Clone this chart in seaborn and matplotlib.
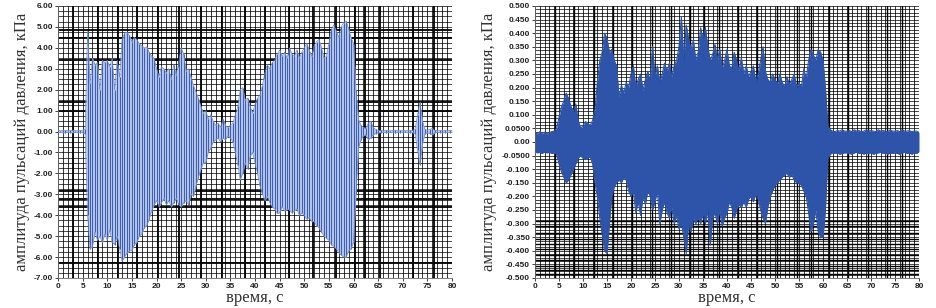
import numpy as np
import pandas as pd
import matplotlib
matplotlib.use("Agg")
import matplotlib.pyplot as plt
import seaborn as sns
from matplotlib.ticker import FormatStrFormatter

# ---------------- data (0.5 s steps, 0..80 s) ----------------
TIME = np.arange(0, 80.01, 0.5)

LEFT_UPPER = [
    0.05, 0.04, 0.06, 0.05, 0.04, 0.06, 0.05, 0.04, 0.06, 0.05,
    0.06, 0.10, 4.80, 2.30, 3.50, 3.20, 3.30, 2.00, 3.40, 3.30,
    3.40, 3.10, 3.50, 2.00, 3.40, 2.60, 4.40, 4.70, 4.75, 4.60,
    4.30, 4.50, 4.40, 4.20, 4.10, 4.00, 4.05, 3.80, 3.60, 3.50,
    3.00, 2.60, 3.10, 3.00, 2.80, 3.00, 2.50, 3.20, 2.70, 3.30,
    4.00, 3.70, 2.90, 3.00, 2.60, 2.20, 1.90, 1.60, 1.20, 0.90,
    1.00, 0.60, 0.80, 0.50, 0.30, 0.40, 0.20, 0.60, 0.30, 0.20,
    0.30, 0.40, 0.80, 1.20, 2.00, 2.10, 1.50, 1.60, 1.20, 0.90,
    1.30, 1.60, 1.75, 2.20, 2.80, 3.20, 3.00, 3.30, 3.40, 3.70,
    3.90, 3.60, 3.80, 3.50, 4.00, 3.70, 3.60, 3.90, 3.50, 3.80,
    4.00, 4.20, 3.90, 3.60, 4.10, 4.30, 4.40, 4.00, 3.50, 3.60,
    4.20, 4.90, 5.10, 4.80, 4.50, 5.00, 5.20, 5.30, 4.90, 4.50,
    4.20, 2.00, 0.60, 0.30, 0.20, 0.15, 0.40, 0.50, 0.20, 0.10,
    0.06, 0.05, 0.04, 0.06, 0.05, 0.04, 0.05, 0.06, 0.04, 0.05,
    0.05, 0.04, 0.06, 0.05, 0.05, 0.10, 0.80, 1.40, 0.50, 0.10,
    0.06, 0.10, 0.15, 0.05, 0.04, 0.05, 0.06, 0.05, 0.04, 0.05,
    0.05,
]
LEFT_LOWER = [
    -0.05, -0.04, -0.06, -0.05, -0.04, -0.06, -0.05, -0.04, -0.06, -0.05,
    -0.06, -0.10, -4.00, -5.60, -5.50, -4.80, -5.20, -5.00, -5.30, -4.90,
    -5.20, -4.70, -5.30, -5.40, -5.00, -5.60, -6.20, -6.00, -5.80, -5.70,
    -5.70, -5.40, -5.30, -5.00, -4.90, -4.60, -4.50, -4.20, -3.80, -3.50,
    -3.30, -3.60, -3.40, -3.20, -3.50, -3.30, -3.60, -3.40, -3.20, -3.50,
    -3.60, -3.40, -3.30, -3.50, -3.00, -3.10, -2.60, -2.20, -1.80, -1.50,
    -1.50, -1.00, -0.80, -0.50, -0.40, -0.30, -0.50, -0.30, -0.40, -0.20,
    -0.30, -0.50, -1.00, -1.60, -2.30, -2.00, -1.50, -1.80, -1.20, -1.00,
    -1.50, -2.00, -2.60, -3.00, -3.30, -3.10, -3.40, -3.60, -3.70, -3.90,
    -3.90, -3.60, -3.80, -3.70, -3.75, -3.90, -3.80, -3.70, -4.00, -3.90,
    -4.00, -4.20, -4.10, -4.30, -4.30, -4.50, -4.60, -4.80, -5.00, -5.10,
    -5.20, -5.40, -5.50, -5.60, -5.80, -5.90, -6.00, -6.00, -5.70, -5.60,
    -5.30, -3.00, -0.80, -0.40, -0.20, -0.15, -0.40, -0.30, -0.15, -0.10,
    -0.06, -0.05, -0.04, -0.06, -0.05, -0.04, -0.05, -0.06, -0.04, -0.05,
    -0.05, -0.04, -0.06, -0.05, -0.05, -0.10, -0.90, -1.60, -0.60, -0.10,
    -0.06, -0.10, -0.15, -0.05, -0.04, -0.05, -0.06, -0.05, -0.04, -0.05,
    -0.05,
]
RIGHT_UPPER = [
    0.035, 0.030, 0.038, 0.032, 0.036, 0.030, 0.034, 0.038, 0.040, 0.050,
    0.090, 0.130, 0.150, 0.180, 0.160, 0.130, 0.110, 0.140, 0.080, 0.050,
    0.060, 0.075, 0.070, 0.060, 0.080, 0.120, 0.220, 0.300, 0.330, 0.400,
    0.380, 0.330, 0.340, 0.300, 0.280, 0.165, 0.210, 0.180, 0.220, 0.200,
    0.250, 0.280, 0.200, 0.230, 0.250, 0.190, 0.230, 0.260, 0.220, 0.350,
    0.240, 0.280, 0.220, 0.250, 0.290, 0.260, 0.290, 0.240, 0.280, 0.300,
    0.350, 0.460, 0.300, 0.430, 0.380, 0.340, 0.375, 0.300, 0.330, 0.420,
    0.380, 0.420, 0.350, 0.300, 0.320, 0.360, 0.300, 0.340, 0.270, 0.300,
    0.340, 0.280, 0.270, 0.330, 0.300, 0.260, 0.310, 0.250, 0.280, 0.240,
    0.260, 0.280, 0.220, 0.250, 0.300, 0.350, 0.260, 0.230, 0.220, 0.250,
    0.230, 0.210, 0.250, 0.220, 0.200, 0.240, 0.210, 0.230, 0.250, 0.200,
    0.220, 0.200, 0.270, 0.230, 0.300, 0.340, 0.320, 0.300, 0.340, 0.330,
    0.300, 0.200, 0.060, 0.045, 0.040, 0.038, 0.042, 0.040, 0.045, 0.040,
    0.040, 0.042, 0.038, 0.045, 0.040, 0.042, 0.038, 0.040, 0.045, 0.040,
    0.042, 0.040, 0.038, 0.045, 0.040, 0.042, 0.040, 0.038, 0.045, 0.040,
    0.040, 0.042, 0.038, 0.045, 0.040, 0.040, 0.042, 0.038, 0.040, 0.040,
    0.035,
]
RIGHT_LOWER = [
    -0.035, -0.040, -0.038, -0.042, -0.036, -0.040, -0.038, -0.042, -0.040, -0.045,
    -0.080, -0.110, -0.130, -0.150, -0.140, -0.120, -0.100, -0.080, -0.060, -0.050,
    -0.060, -0.065, -0.060, -0.055, -0.080, -0.150, -0.200, -0.280, -0.340, -0.400,
    -0.410, -0.300, -0.200, -0.165, -0.150, -0.140, -0.150, -0.130, -0.140, -0.180,
    -0.200, -0.180, -0.260, -0.220, -0.270, -0.200, -0.230, -0.180, -0.200, -0.250,
    -0.220, -0.180, -0.300, -0.250, -0.220, -0.260, -0.280, -0.240, -0.300, -0.270,
    -0.320, -0.300, -0.350, -0.410, -0.300, -0.330, -0.280, -0.300, -0.275, -0.300,
    -0.260, -0.300, -0.250, -0.380, -0.280, -0.260, -0.300, -0.250, -0.310, -0.280,
    -0.260, -0.220, -0.240, -0.280, -0.250, -0.230, -0.240, -0.220, -0.240, -0.210,
    -0.200, -0.220, -0.190, -0.210, -0.250, -0.280, -0.300, -0.240, -0.200, -0.180,
    -0.160, -0.150, -0.140, -0.130, -0.120, -0.115, -0.130, -0.120, -0.140, -0.150,
    -0.150, -0.160, -0.180, -0.200, -0.260, -0.330, -0.300, -0.250, -0.330, -0.350,
    -0.350, -0.250, -0.060, -0.045, -0.040, -0.042, -0.040, -0.045, -0.042, -0.040,
    -0.040, -0.042, -0.045, -0.040, -0.038, -0.042, -0.040, -0.045, -0.040, -0.042,
    -0.040, -0.045, -0.042, -0.040, -0.038, -0.042, -0.040, -0.045, -0.040, -0.042,
    -0.040, -0.042, -0.045, -0.040, -0.038, -0.042, -0.040, -0.045, -0.040, -0.042,
    -0.035,
]

X_TICKS = list(range(0, 81, 5))
LEFT_Y_TICKS = [6, 5, 4, 3, 2, 1, 0, -1, -2, -3, -4, -5, -6, -7]
RIGHT_Y_TICKS = [0.5, 0.45, 0.4, 0.35, 0.3, 0.25, 0.2, 0.15, 0.1, 0.05, 0.0,
                 -0.05, -0.1, -0.15, -0.2, -0.25, -0.3, -0.35, -0.4, -0.45, -0.5]
RIGHT_Y_LABELS = ["0.500", "0.450", "0.400", "0.350", "0.300", "0.250", "0.200",
                  "0.150", "0.100", "0.0500", "0.00", "-0.0500", "-0.100", "-0.150",
                  "-0.200", "-0.250", "-0.300", "-0.350", "-0.400", "-0.450", "-0.500"]

X_LABEL = "время, с"
Y_LABEL = "амплитуда пульсаций давления, кПа"

# heavier grid lines of the printed graph paper (styling)
LEFT_THICK_X = [3, 8.1, 12.2, 16, 20.3, 24.6, 29, 33.3, 38, 42, 47, 51.8, 56.5, 60.3, 62.3, 65.3, 72, 76.3]
LEFT_THICK_Y = [4.85, 4.45, 3.4, 1.4, 1.0, -2.85, -3.22, -3.6, -6.28]
RIGHT_THICK_X = [4.2, 8.1, 12.3, 16.3, 20.3, 24.3, 28.3, 32.3, 35.2, 38.3, 42.3, 46.2,
                 50.4, 54.6, 57.6, 61.2, 65.3, 69.4, 73.3, 76.5]
RIGHT_THICK_Y = [-0.29, -0.31, -0.335, -0.355, -0.375, -0.395, -0.415, -0.435,
                 -0.455, -0.47, -0.485]

# ---------------- figure ----------------
sns.set_theme(style="white")
plt.rcParams["font.family"] = ["Liberation Sans", "DejaVu Sans"]

fig = plt.figure(figsize=(9.36, 3.08), dpi=100)
axL = fig.add_axes([58 / 936, 30 / 308, 394 / 936, 272 / 308])
axR = fig.add_axes([535 / 936, 30 / 308, 384 / 936, 272 / 308])

df = pd.DataFrame({"t": TIME, "lu": LEFT_UPPER, "ll": LEFT_LOWER,
                   "ru": RIGHT_UPPER, "rl": RIGHT_LOWER})

def grid(ax, xstep, ystep, ylo, yhi, thick_x, thick_y, thick_w):
    for x in np.arange(0, 80.001, xstep):
        ax.axvline(x, color="black", lw=0.55, zorder=0)
    for y in np.arange(ylo, yhi + 1e-9, ystep):
        ax.axhline(y, color="black", lw=0.5, zorder=0)
    for x in thick_x:
        ax.axvline(x, color="black", lw=thick_w, zorder=0)
    for y in thick_y:
        ax.axhline(y, color="black", lw=thick_w, zorder=0)

# left panel
grid(axL, 1.0, 0.25, -7, 6, LEFT_THICK_X, LEFT_THICK_Y, 1.3)
axL.fill_between(df["t"], df["ll"], df["lu"], color="#b3c3ea", lw=0, zorder=2)
axL.vlines(df["t"], df["ll"], df["lu"], color="#3a5db3", lw=0.7, zorder=3)
sns.lineplot(data=df, x="t", y="lu", ax=axL, color="#6f8acb", lw=0.5, zorder=3)
sns.lineplot(data=df, x="t", y="ll", ax=axL, color="#6f8acb", lw=0.5, zorder=3)
axL.set_ylim(-7, 6)
axL.set_yticks(LEFT_Y_TICKS)
axL.yaxis.set_major_formatter(FormatStrFormatter("%.2f"))

# right panel
grid(axR, 1.0, 0.0125, -0.5, 0.5, RIGHT_THICK_X, RIGHT_THICK_Y, 1.0)
axR.fill_between(df["t"], df["rl"], df["ru"], color="#2d54a8", lw=0, zorder=2)
sns.lineplot(data=df, x="t", y="ru", ax=axR, color="#2d54a8", lw=0.8, zorder=3)
sns.lineplot(data=df, x="t", y="rl", ax=axR, color="#2d54a8", lw=0.8, zorder=3)
axR.set_ylim(-0.5, 0.5)
axR.set_yticks(RIGHT_Y_TICKS)
axR.set_yticklabels(RIGHT_Y_LABELS)

for ax in (axL, axR):
    ax.set_xlim(0, 80)
    ax.set_xticks(X_TICKS)
    ax.tick_params(axis="both", labelsize=6, length=2, width=0.6, pad=1.5,
                   colors="#222222", left=True, bottom=True)
    for lab in ax.get_xticklabels() + ax.get_yticklabels():
        lab.set_fontweight("bold")
    for side in ("top", "right"):
        ax.spines[side].set_visible(False)
    for side in ("left", "bottom"):
        ax.spines[side].set_color("#666666")
        ax.spines[side].set_linewidth(0.6)
    ax.set_xlabel(X_LABEL, family=["Liberation Serif", "DejaVu Serif"], fontsize=12,
                  color="#333333", labelpad=0)
    ax.set_ylabel(Y_LABEL, family=["Liberation Serif", "DejaVu Serif"], fontsize=12,
                  color="#333333", labelpad=3)

fig.savefig("out.png", dpi=100, facecolor="white")
